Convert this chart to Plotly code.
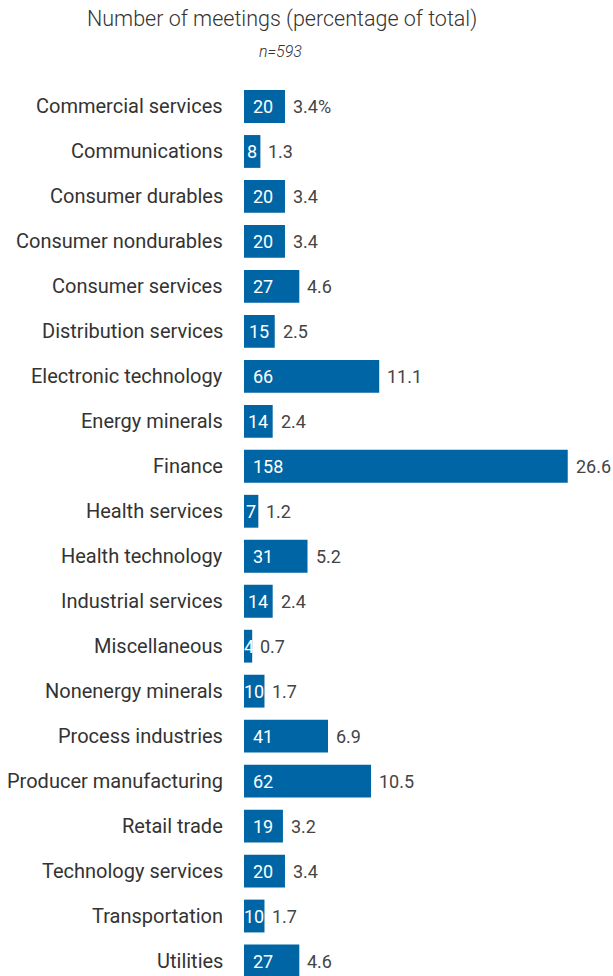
import plotly.graph_objects as go

categories = [
    "Commercial services", "Communications", "Consumer durables",
    "Consumer nondurables", "Consumer services", "Distribution services",
    "Electronic technology", "Energy minerals", "Finance", "Health services",
    "Health technology", "Industrial services", "Miscellaneous",
    "Nonenergy minerals", "Process industries", "Producer manufacturing",
    "Retail trade", "Technology services", "Transportation", "Utilities",
]
meetings = [20, 8, 20, 20, 27, 15, 66, 14, 158, 7, 31, 14, 4, 10, 41, 62, 19, 20, 10, 27]
percents = ["3.4%", "1.3", "3.4", "3.4", "4.6", "2.5", "11.1", "2.4", "26.6", "1.2",
            "5.2", "2.4", "0.7", "1.7", "6.9", "10.5", "3.2", "3.4", "1.7", "4.6"]

BAR = "#0065a4"
TEXT = "#333333"
FONT = "Roboto"

W, H = 613, 976
L, T = 244, 83.5
ROW = 45            # pixel height of one category row
PX_PER_UNIT = 2.049

rows = list(range(len(categories)))

fig = go.Figure(go.Bar(
    x=meetings, y=rows, orientation="h",
    marker=dict(color=BAR, line=dict(width=0)),
    width=0.73, hoverinfo="skip",
))

ann = []
for i, (cat, v, p) in enumerate(zip(categories, meetings, percents)):
    ann.append(dict(x=0, y=i, xref="x", yref="y", text=cat, showarrow=False,
                    xanchor="right", xshift=-19,
                    font=dict(family=FONT, size=20, color=TEXT)))
    # value label inside the bar: padded on wide bars, tucked in on narrow ones
    label_w = 10 * len(str(v))
    bar_w = v * PX_PER_UNIT
    pad = max(0, min(9, (bar_w - label_w) / 2))
    ann.append(dict(x=0, y=i, xref="x", yref="y", text=str(v), showarrow=False,
                    xanchor="left", xshift=pad - 2,
                    font=dict(family=FONT, size=18, color="white")))
    ann.append(dict(x=v, y=i, xref="x", yref="y", text=p, showarrow=False,
                    xanchor="left", xshift=6,
                    font=dict(family=FONT, size=18, color="#444444")))

header = [
    dict(px=282, py=18, text="Number of meetings (percentage of total)",
         font=dict(family=FONT, size=21.5, color=TEXT, weight=300)),
    dict(px=280, py=51, text="<i>n=593</i>",
         font=dict(family=FONT, size=16, color=TEXT, weight=300)),
]
for h in header:
    ann.append(dict(x=(h["px"] - L) / (W - L), y=1 + (T - h["py"]) / (H - T),
                    xref="paper", yref="paper", text=h["text"], showarrow=False,
                    xanchor="center", yanchor="middle", font=h["font"]))

fig.update_layout(
    width=W, height=H,
    margin=dict(l=L, r=0, t=T, b=0),
    paper_bgcolor="white", plot_bgcolor="white",
    showlegend=False,
    xaxis=dict(range=[0, (W - L) / PX_PER_UNIT], visible=False, fixedrange=True),
    yaxis=dict(range=[-0.5 + (H - T) / ROW, -0.5], visible=False, fixedrange=True),
    annotations=ann,
)

fig.write_html("out.html")
